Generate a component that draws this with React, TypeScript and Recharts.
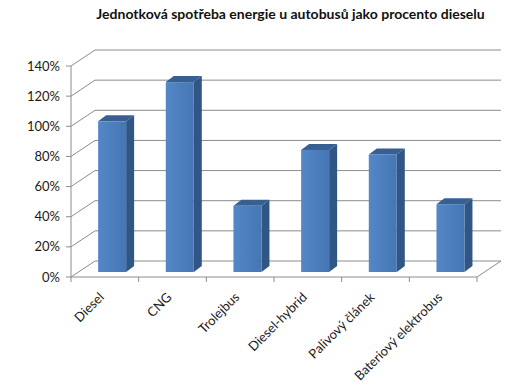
import { BarChart, Bar, XAxis, YAxis, CartesianGrid } from 'recharts';

const categories = ['Diesel', 'CNG', 'Trolejbus', 'Diesel-hybrid', 'Palivový článek', 'Bateriový elektrobus'];
const shares = [1.0, 1.26, 0.44, 0.81, 0.78, 0.45];
const yTicks = [0, 0.2, 0.4, 0.6, 0.8, 1.0, 1.2, 1.4];

const data = categories.map((name, i) => ({ name, value: shares[i] }));

// floor / wall geometry
const LEFT = 71;
const RIGHT = 477;
const BOTTOM = 277;
const WALL_DX = 24;
const WALL_DY = 16;
const BAND = (RIGHT - LEFT) / categories.length;
const GRID = '#8c8c8c';
const FONT = 'Lato, "Open Sans", sans-serif';

function WallLine(props: any) {
    const { y1, index } = props;
    const isFloor = Math.abs(y1 - BOTTOM) < 1;
    return (
        <g key={`wall-${index}`}>
            <line x1={LEFT} y1={y1} x2={LEFT + WALL_DX} y2={y1 - WALL_DY} stroke={GRID} strokeWidth={1} />
            <line x1={LEFT + WALL_DX} y1={y1 - WALL_DY} x2={RIGHT + WALL_DX} y2={y1 - WALL_DY} stroke={GRID} strokeWidth={1} />
            {isFloor && (
                <line x1={RIGHT} y1={y1} x2={RIGHT + WALL_DX} y2={y1 - WALL_DY} stroke={GRID} strokeWidth={1} />
            )}
        </g>
    );
}

function Bar3D(props: any) {
    const { x, y, width, height } = props;
    if (height <= 0) return null;
    const fx = x + 7.5;
    const fy = y - 5;
    const d = 8;
    const dy = 6;
    return (
        <g>
            <polygon
                points={`${fx + width},${fy} ${fx + width + d},${fy - dy} ${fx + width + d},${fy + height - dy} ${fx + width},${fy + height}`}
                fill="#2f5684"
            />
            <polygon
                points={`${fx},${fy} ${fx + d},${fy - dy} ${fx + width + d},${fy - dy} ${fx + width},${fy}`}
                fill="#385f92"
            />
            <rect x={fx} y={fy} width={width} height={height} fill="url(#barFront)" />
        </g>
    );
}

function YTick(props: any) {
    const { y, payload } = props;
    return (
        <g>
            <line x1={LEFT - 5} y1={y} x2={LEFT} y2={y} stroke={GRID} />
            <text x={LEFT - 11} y={y} dy={4.5} textAnchor="end" fontSize={13} fill="#1a1a1a" fontFamily={FONT}>
                {`${Math.round(payload.value * 100)}%`}
            </text>
        </g>
    );
}

function XTick(props: any) {
    const { x, y, payload, index } = props;
    const left = x - BAND / 2;
    const ty = y + 13;
    return (
        <g>
            <line x1={left} y1={BOTTOM} x2={left} y2={BOTTOM + 5} stroke={GRID} />
            {index === categories.length - 1 && (
                <line x1={x + BAND / 2} y1={BOTTOM} x2={x + BAND / 2} y2={BOTTOM + 5} stroke={GRID} />
            )}
            <text
                x={x}
                y={ty}
                textAnchor="end"
                fontSize={13}
                fill="#1a1a1a"
                fontFamily={FONT}
                transform={`rotate(-45, ${x}, ${ty})`}
            >
                {payload.value}
            </text>
        </g>
    );
}

export default function App() {
    return (
        <div style={{ position: 'absolute', left: 0, top: 0, width: 519, height: 390, background: '#fff' }}>
            <div
                style={{
                    position: 'absolute',
                    left: 0,
                    top: 5,
                    width: 581,
                    textAlign: 'center',
                    fontFamily: FONT,
                    fontWeight: 700,
                    fontSize: 14,
                    color: '#111',
                }}
            >
                Jednotková spotřeba energie u autobusů jako procento dieselu
            </div>
            <BarChart
                width={519}
                height={390}
                data={data}
                margin={{ top: 66, right: 42, bottom: 13, left: 11 }}
                barCategoryGap="29%"
            >
                <defs>
                    <linearGradient id="barFront" x1="0" y1="0" x2="1" y2="0">
                        <stop offset="0%" stopColor="#5387c6" />
                        <stop offset="100%" stopColor="#4676b4" />
                    </linearGradient>
                </defs>
                <CartesianGrid vertical={false} horizontal={(p: any) => <WallLine {...p} />} stroke={GRID} />
                <XAxis
                    dataKey="name"
                    height={100}
                    interval={0}
                    tickLine={false}
                    axisLine={{ stroke: GRID }}
                    tick={<XTick />}
                />
                <YAxis
                    width={60}
                    domain={[0, 1.4]}
                    ticks={yTicks}
                    interval={0}
                    tickLine={false}
                    axisLine={{ stroke: GRID }}
                    tick={<YTick />}
                />
                <Bar dataKey="value" shape={<Bar3D />} isAnimationActive={false} />
            </BarChart>
        </div>
    );
}
